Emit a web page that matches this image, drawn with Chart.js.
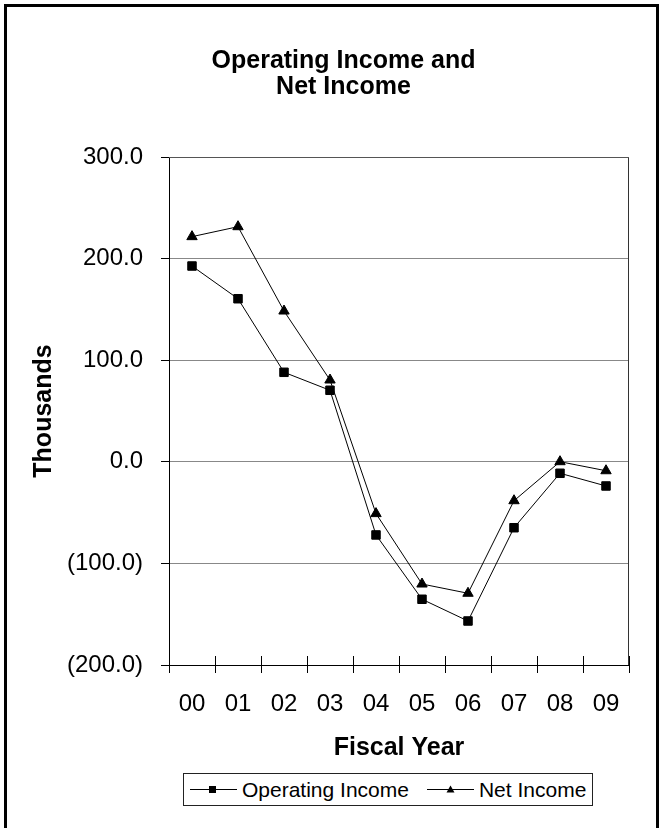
<!DOCTYPE html>
<html>
<head>
<meta charset="utf-8">
<script src="https://cdn.jsdelivr.net/npm/chart.js@4/dist/chart.umd.min.js"></script>
<style>
  html, body { margin: 0; padding: 0; background: #fff; }
  #wrap { position: relative; width: 662px; height: 828px; overflow: hidden; }
  #frame { position: absolute; left: 4px; top: 4px; width: 649px; height: 900px; border: 3px solid #000; box-sizing: content-box; }
  #c { position: absolute; left: 0; top: 0; }
  #legend { position: absolute; left: 183px; top: 773px; width: 408px; height: 31px; border: 1px solid #222;
            font-family: "Liberation Sans", Arial, sans-serif; font-size: 21px; line-height: 31px; color: #000;
            display: flex; align-items: center; white-space: nowrap; background: #fff; }
  #legend .item { display: flex; align-items: center; }
  #legend svg { display: block; }
</style>
</head>
<body>
<div id="wrap">
  <div id="frame"></div>
  <canvas id="c" width="662" height="828"></canvas>
  <div id="legend"></div>
</div>
<script>
// ---- data ----
const years = ['00', '01', '02', '03', '04', '05', '06', '07', '08', '09'];
const operatingIncome = [192.7, 160.5, 88.1, 70.4, -72.0, -135.3, -156.7, -64.9, -11.3, -23.8];
const netIncome = [221.6, 231.4, 148.4, 80.5, -51.0, -120.3, -129.4, -38.3, 0.1, -8.8];
const seriesNames = ['Operating Income', 'Net Income'];
const titleLines = ['Operating Income and', 'Net Income'];
const yTitle = 'Thousands';
const xTitle = 'Fiscal Year';
const yMin = -200, yMax = 300, yStep = 100;

const FONT = '"Liberation Sans", Arial, Helvetica, sans-serif';

function fmt(v) {
  const s = Math.abs(v).toFixed(1);
  return v < 0 ? '(' + s + ')' : s;
}

const frameLines = {
  id: 'frameLines',
  beforeDatasetsDraw(chart) {
    const {ctx, chartArea: a} = chart;
    ctx.save();
    ctx.lineWidth = 1;
    ctx.strokeStyle = '#333';
    ctx.beginPath();
    ctx.moveTo(a.right - 0.5, a.top);
    ctx.lineTo(a.right - 0.5, a.bottom);
    ctx.stroke();
    ctx.strokeStyle = '#555';
    ctx.beginPath();
    ctx.moveTo(a.left, a.top + 0.5);
    ctx.lineTo(a.right, a.top + 0.5);
    ctx.stroke();
    // inner part of crossing x tick marks
    const xs = chart.scales.x;
    ctx.strokeStyle = '#000';
    ctx.beginPath();
    for (let i = 0; i <= years.length; i++) {
      const px = Math.round(xs.getPixelForValue(i - 0.5)) + 0.5;
      ctx.moveTo(px, a.bottom - 9);
      ctx.lineTo(px, a.bottom);
    }
    ctx.stroke();
    ctx.restore();
  },
  afterLayout(chart) {
    const t = chart.titleBlock;
    if (t) { t.left += 25; t.right += 25; }
  }
};

const ctx = document.getElementById('c').getContext('2d');
const chart = new Chart(ctx, {
  type: 'line',
  data: {
    labels: years,
    datasets: [
      {
        label: seriesNames[0], data: operatingIncome,
        borderColor: '#000', backgroundColor: '#000', borderWidth: 1,
        pointStyle: 'rect', pointRadius: 6, pointBorderWidth: 1,
        pointBackgroundColor: '#000', pointBorderColor: '#000', tension: 0
      },
      {
        label: seriesNames[1], data: netIncome,
        borderColor: '#000', backgroundColor: '#000', borderWidth: 1,
        pointStyle: 'triangle', pointRadius: 6, pointBorderWidth: 1,
        pointBackgroundColor: '#000', pointBorderColor: '#000', tension: 0
      }
    ]
  },
  options: {
    responsive: false,
    animation: false,
    devicePixelRatio: 1,
    layout: { padding: { left: 8, right: 33, top: 0, bottom: 0 } },
    plugins: {
      legend: { display: false },
      tooltip: { enabled: false },
      title: {
        display: true, text: titleLines, color: '#000',
        font: { family: FONT, size: 25, weight: 'bold', lineHeight: 1.04 },
        padding: { top: 48, bottom: 57 }
      }
    },
    scales: {
      x: {
        type: 'category', offset: true,
        grid: { display: true, drawOnChartArea: false, offset: true, tickLength: 8, tickColor: '#000', color: '#000' },
        border: { display: true, color: '#000', width: 1 },
        ticks: { color: '#000', font: { family: FONT, size: 24 }, padding: 17, maxRotation: 0, autoSkip: false },
        title: { display: true, text: xTitle, color: '#000', font: { family: FONT, size: 25, weight: 'bold', lineHeight: 1.2 }, padding: { top: 0, bottom: 65 } },
        afterFit(s) { s.height = 163; }
      },
      y: {
        min: yMin, max: yMax,
        grid: { color: '#888', tickColor: '#000', tickLength: 8, lineWidth: 1 },
        border: { display: true, color: '#000', width: 1 },
        ticks: { stepSize: yStep, color: '#000', font: { family: FONT, size: 24 }, padding: 18, callback: (v) => fmt(v) },
        title: { display: true, text: yTitle, color: '#000', font: { family: FONT, size: 25, weight: 'bold', lineHeight: 1.2 }, padding: { top: 21, bottom: 0 } },
        afterFit(s) { s.width = 161; }
      }
    }
  },
  plugins: [frameLines]
});

// ---- HTML legend built from the datasets ----
function markerSvg(style) {
  const ns = 'http://www.w3.org/2000/svg';
  const svg = document.createElementNS(ns, 'svg');
  svg.setAttribute('width', '47'); svg.setAttribute('height', '31');
  const line = document.createElementNS(ns, 'line');
  line.setAttribute('x1', '0'); line.setAttribute('x2', '47');
  line.setAttribute('y1', '15.5'); line.setAttribute('y2', '15.5');
  line.setAttribute('stroke', '#000'); line.setAttribute('stroke-width', '1');
  svg.appendChild(line);
  let m;
  if (style === 'rect') {
    m = document.createElementNS(ns, 'rect');
    m.setAttribute('x', '19'); m.setAttribute('y', '12'); m.setAttribute('width', '7'); m.setAttribute('height', '7');
  } else {
    m = document.createElementNS(ns, 'polygon');
    m.setAttribute('points', '23.5,11.5 27.5,18.5 19.5,18.5');
  }
  m.setAttribute('fill', '#000');
  svg.appendChild(m);
  return svg;
}
const legend = document.getElementById('legend');
chart.data.datasets.forEach((ds, i) => {
  const item = document.createElement('div');
  item.className = 'item';
  item.style.marginLeft = i === 0 ? '6px' : '18px';
  item.appendChild(markerSvg(ds.pointStyle));
  const sp = document.createElement('span');
  sp.textContent = ds.label;
  sp.style.marginLeft = '5px';
  item.appendChild(sp);
  legend.appendChild(item);
});
</script>
</body>
</html>
